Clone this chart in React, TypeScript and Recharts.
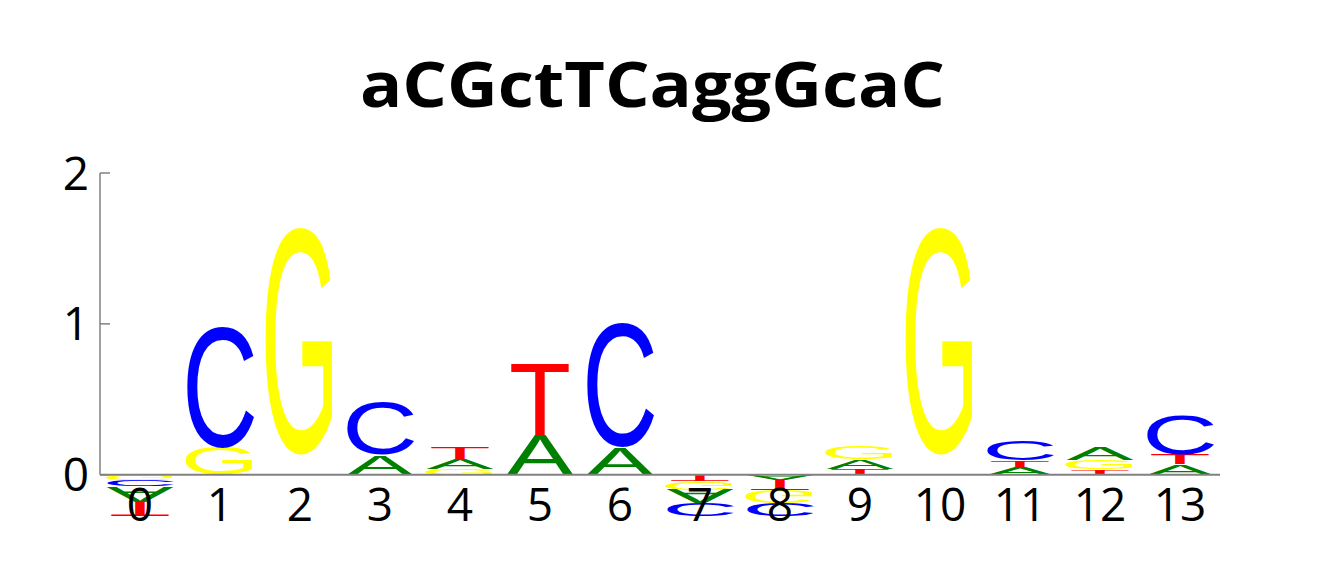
import React from "react";
import { BarChart, Bar, XAxis, YAxis, ReferenceLine } from "recharts";

// positions along the motif
const positions = [0, 1, 2, 3, 4, 5, 6, 7, 8, 9, 10, 11, 12, 13];

// letters per position, from the zero line outwards ("" = empty space)
const stackLetters: string[][] = [
  ["G", "C", "A", "T"],
  ["G", "C"],
  ["", "G"],
  ["A", "C"],
  ["G", "A", "T"],
  ["A", "T"],
  ["A", "C"],
  ["T", "G", "A", "C"],
  ["A", "T", "G", "C"],
  ["T", "A", "G"],
  ["", "G"],
  ["A", "T", "C"],
  ["T", "G", "A"],
  ["A", "T", "C"],
];

// letter heights (bits), same order as stackLetters
const stackHeights: number[][] = [
  [-0.035, -0.045, -0.1, -0.095],
  [0.18, 0.81],
  [0.13, 1.51],
  [0.13, 0.35],
  [0.04, 0.065, 0.075],
  [0.26, 0.47],
  [0.18, 0.82],
  [-0.045, -0.05, -0.09, -0.085],
  [-0.035, -0.065, -0.085, -0.09],
  [0.04, 0.06, 0.085],
  [0.13, 1.51],
  [0.05, 0.045, 0.13],
  [0.035, 0.06, 0.085],
  [0.07, 0.065, 0.26],
];

const yTicks = [0, 1, 2];
const title = "aCGctTCaggGcaC";

const LAYERS = [0, 1, 2, 3];

const data = positions.map((pos, i) => {
  const row: Record<string, number | string> = { pos };
  LAYERS.forEach((k) => {
    row[`h${k}`] = stackHeights[i][k] ?? 0;
    row[`l${k}`] = stackLetters[i][k] ?? "";
  });
  return row;
});

const letterColor: Record<string, string> = {
  A: "#008000",
  C: "#0000ff",
  G: "#ffff00",
  T: "#ff0000",
};

// advance width given to each glyph so the ink comes out ~66px wide
const letterWidth: Record<string, number> = {
  A: 67,
  C: 76,
  G: 79,
  T: 62,
};

// ink extent of each glyph in em (bottom, top) for Liberation Sans
const letterInk: Record<string, [number, number]> = {
  A: [0, 0.688],
  T: [0, 0.688],
  C: [-0.012, 0.7],
  G: [-0.012, 0.7],
};

const FS = 100;
const AXIS_GREY = "#808080";

function Letter(props: any) {
  const { x, y, width, height, payload, layer } = props;
  const ch = payload[`l${layer}`];
  const v = payload[`h${layer}`];
  if (!ch || !v || !height) return null;
  const top = Math.min(y, y + height);
  const h = Math.abs(height);
  const tl = letterWidth[ch];
  const [inkB, inkT] = letterInk[ch];
  const cx = x + width / 2;
  const sy = h / ((inkT - inkB) * FS);
  const shift = inkB * FS * sy;
  const transform =
    v < 0
      ? `translate(${cx - tl / 2},${top - shift}) scale(1,${-sy})`
      : `translate(${cx - tl / 2},${top + h + shift}) scale(1,${sy})`;
  return (
    <text
      transform={transform}
      x={0}
      y={0}
      fontSize={FS}
      fontFamily="'Liberation Sans', Arial, sans-serif"
      fill={letterColor[ch]}
      textLength={tl}
      lengthAdjust="spacingAndGlyphs"
    >
      {ch}
    </text>
  );
}

const XTick = ({ x, y, payload }: any) => (
  <text
    x={x}
    y={y + 1}
    textAnchor="middle"
    fontSize={46}
    fontFamily="'Open Sans', sans-serif"
    fill="#000"
  >
    {payload.value}
  </text>
);

const YTick = ({ x, y, payload }: any) => (
  <text
    x={x - 11}
    y={y}
    dy="0.36em"
    textAnchor="end"
    fontSize={46}
    fontFamily="'Open Sans', sans-serif"
    fill="#000"
  >
    {payload.value}
  </text>
);

export default function App() {
  return (
    <div
      style={{
        position: "absolute",
        left: 0,
        top: 0,
        width: 1320,
        height: 575,
        background: "#fff",
      }}
    >
      <svg
        width={1320}
        height={130}
        style={{ position: "absolute", left: 0, top: 0 }}
      >
        <text
          x={360}
          y={107}
          fontSize={63}
          fontWeight={700}
          fontFamily="'Open Sans', sans-serif"
          textLength={585}
          lengthAdjust="spacingAndGlyphs"
          fill="#000"
        >
          {title}
        </text>
      </svg>
      <BarChart
        width={1320}
        height={575}
        data={data}
        stackOffset="sign"
        barSize={66}
        margin={{ top: 173, right: 100, bottom: 25, left: 40 }}
      >
        <XAxis
          type="number"
          dataKey="pos"
          domain={[-0.5, 13.5]}
          ticks={positions}
          axisLine={false}
          tickLine={false}
          tickSize={0}
          tickMargin={0}
          height={30}
          interval={0}
          tick={<XTick />}
        />
        <YAxis
          type="number"
          domain={[-0.3, 2]}
          allowDataOverflow
          ticks={yTicks}
          axisLine={false}
          tickLine={false}
          tickSize={0}
          tickMargin={0}
          width={60}
          tick={<YTick />}
        />
        {LAYERS.map((k) => (
          <Bar
            key={k}
            dataKey={`h${k}`}
            stackId="logo"
            isAnimationActive={false}
            shape={(p: any) => <Letter {...p} layer={k} />}
          />
        ))}
        <ReferenceLine y={0} stroke={AXIS_GREY} strokeWidth={2} />
        <ReferenceLine
          segment={[
            { x: -0.5, y: 0 },
            { x: -0.5, y: 2 },
          ]}
          stroke={AXIS_GREY}
          strokeWidth={1.5}
        />
        {yTicks.map((t) => (
          <ReferenceLine
            key={t}
            segment={[
              { x: -0.5, y: t },
              { x: -0.375, y: t },
            ]}
            stroke={AXIS_GREY}
            strokeWidth={1.5}
          />
        ))}
      </BarChart>
    </div>
  );
}
